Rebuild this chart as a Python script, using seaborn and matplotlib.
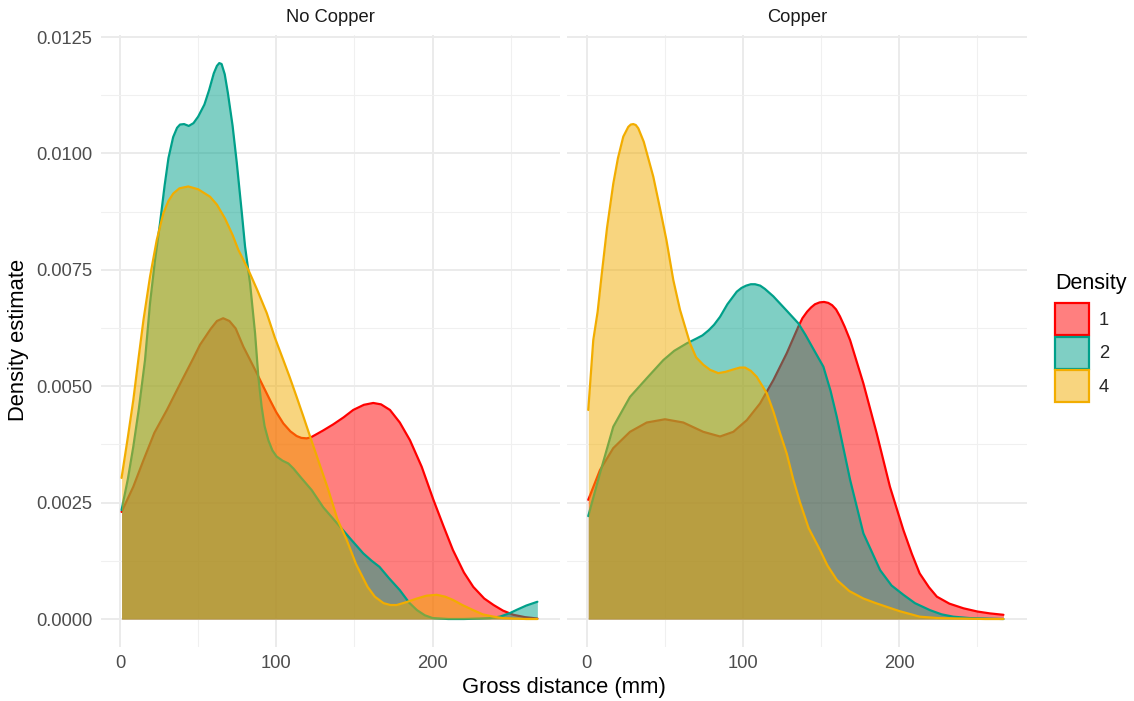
import numpy as np
import pandas as pd
import matplotlib
matplotlib.use("Agg")
import matplotlib.pyplot as plt
import seaborn as sns
from matplotlib.patches import Patch
from matplotlib.colors import to_rgba
from matplotlib.ticker import MultipleLocator, FormatStrFormatter

sns.set_theme(style="white")
plt.rcParams['font.family'] = ['Liberation Sans', 'DejaVu Sans']

panels = ["No Copper", "Copper"]
groups = ["1", "2", "4"]
palette = {"1": "#FF0000", "2": "#00A08A", "4": "#F2AD00"}
x_ticks = [0, 100, 200]
y_ticks = [0.0, 0.0025, 0.005, 0.0075, 0.01, 0.0125]

# ---- No Copper ----
nc1_x = [1, 8.5, 15, 22, 30, 38, 46.9, 51.2, 55, 58, 62, 66, 70, 74, 78.9, 83, 87.5, 92, 96,
         100, 104.5, 109, 113, 116, 119.4, 122, 124.7, 130, 136.4, 143, 149.2, 156, 162, 167,
         172.7, 179, 185.5, 193, 200.5, 207, 213, 220, 226, 233, 239, 245, 251.7, 259, 267]
nc1_y = [0.0023, 0.00284, 0.00341, 0.0040, 0.00449, 0.00502, 0.00560, 0.00589, 0.00608, 0.00623,
         0.0064, 0.00646, 0.0064, 0.00624, 0.00585, 0.00558, 0.00528, 0.00497, 0.0047, 0.00444,
         0.0042, 0.00403, 0.00393, 0.00389, 0.00388, 0.0039, 0.00395, 0.00405, 0.00418, 0.00433,
         0.00449, 0.0046, 0.00464, 0.00461, 0.00449, 0.00422, 0.00384, 0.00327, 0.00256, 0.00199,
         0.00148, 0.00100, 0.00069, 0.00044, 0.0003, 0.00018, 0.00009, 0.00004, 0.00001]

nc2_x = [1, 5, 8.5, 12, 16, 19.2, 22.4, 25.6, 28.5, 31, 34, 36.5, 38.4, 41, 44, 47, 50, 54, 57,
         60, 62, 63.5, 65, 67, 69, 72, 74.7, 78, 80, 83.2, 86.4, 88.5, 90.6, 92.5, 94.9, 97.5,
         100.2, 104, 107.7, 111, 115.2, 122.6, 130, 140.8, 148, 155.6, 161, 166, 172, 179, 185,
         190, 195, 200, 210, 220, 230, 237, 243, 249, 254, 260, 267]
nc2_y = [0.00234, 0.0030, 0.0037, 0.0045, 0.00556, 0.00678, 0.00771, 0.00850, 0.0093, 0.0099,
         0.01035, 0.01055, 0.01062, 0.01063, 0.01059, 0.01065, 0.01079, 0.01105, 0.01136, 0.01172,
         0.01188, 0.01194, 0.01192, 0.0117, 0.0113, 0.0106, 0.0098, 0.0087, 0.0080, 0.00721,
         0.00614, 0.0052, 0.00456, 0.00414, 0.00384, 0.00362, 0.00349, 0.0034, 0.00334, 0.00323,
         0.00306, 0.00277, 0.00240, 0.00198, 0.00170, 0.00141, 0.00125, 0.00112, 0.00088, 0.00062,
         0.00035, 0.00019, 0.00008, 0.00002, 0.0, 0.0, 0.00001, 0.00002, 0.00005, 0.00012, 0.0002,
         0.00029, 0.00037]

nc4_x = [1, 5, 8.5, 11.7, 15, 19.2, 23.5, 27.7, 31, 34.1, 38, 43.7, 50, 57.6, 62, 67.2, 72, 75.7,
         82.1, 88, 93.9, 99, 104.5, 108.5, 113, 117.3, 121.6, 127, 133.3, 139, 145, 151, 158.4,
         163, 168.6, 173, 177, 183, 190, 196, 202.6, 208, 213, 219, 226, 232, 239, 245, 252, 260, 267]
nc4_y = [0.00303, 0.0039, 0.0047, 0.00556, 0.00642, 0.00735, 0.00814, 0.00871, 0.00898, 0.00914,
         0.00925, 0.00929, 0.00923, 0.00907, 0.00890, 0.00860, 0.00825, 0.00793, 0.0075, 0.00705,
         0.00657, 0.00605, 0.00556, 0.0052, 0.00477, 0.00435, 0.00392, 0.00339, 0.00277, 0.00215,
         0.0017, 0.00118, 0.00069, 0.00048, 0.00034, 0.0003, 0.0003, 0.00036, 0.00044, 0.0005,
         0.00052, 0.00048, 0.00041, 0.0003, 0.00019, 0.0001, 0.00005, 0.00002, 0.00001, 0.0, 0.0]

# ---- Copper ----
c1_x = [1, 8.5, 17, 27.7, 38.4, 50.1, 61.8, 74.6, 85.3, 93.8, 102.4, 110.9, 119.4, 128, 135.4,
        138, 141, 143.5, 146, 149, 151.8, 154.5, 157, 159.5, 162, 165, 168.5, 177, 185.5, 194,
        202.6, 208, 213, 219, 224, 232, 241, 250, 258, 266.6]
c1_y = [0.00256, 0.0032, 0.00367, 0.00402, 0.00422, 0.00429, 0.00422, 0.00402, 0.00392, 0.00402,
        0.00427, 0.00463, 0.00513, 0.00571, 0.00628, 0.00646, 0.0066, 0.00669, 0.00676, 0.0068,
        0.00681, 0.00679, 0.00674, 0.00665, 0.0065, 0.00628, 0.00599, 0.00506, 0.00399, 0.00284,
        0.00191, 0.0014, 0.00098, 0.00068, 0.00048, 0.00033, 0.00023, 0.00016, 0.00012, 0.00009]

c2_x = [1, 8.5, 17, 27.7, 38.4, 49, 56, 64, 70, 74, 78, 81.5, 85.3, 90, 96, 99, 102, 105, 107.7,
        111, 114, 119.4, 128, 135.4, 140, 145, 151.4, 156, 160, 168.5, 177, 187.7, 195, 202.6,
        210, 219.6, 227, 234.5, 245, 255, 266.6]
c2_y = [0.00221, 0.00313, 0.00413, 0.00477, 0.00517, 0.00556, 0.00576, 0.00592, 0.00602, 0.00609,
        0.0062, 0.00632, 0.00649, 0.00676, 0.00703, 0.00711, 0.00716, 0.00719, 0.00719, 0.00716,
        0.00709, 0.00693, 0.00662, 0.00635, 0.0061, 0.0058, 0.00542, 0.0049, 0.00434, 0.00299,
        0.00184, 0.00105, 0.00072, 0.00052, 0.00034, 0.00019, 0.0001, 0.00005, 0.00002, 0.00001, 0.0]

c4_x = [1, 4.2, 7, 9.6, 13, 17, 20, 23.4, 26.6, 28.2, 29.8, 31.4, 33, 36.5, 42.6, 47, 51, 55.4,
        59.7, 66.1, 70, 74.6, 79, 84.2, 89, 93.8, 98, 101.3, 105, 108.8, 115.2, 119.5, 123.7, 128,
        132.2, 136.5, 142, 149.3, 154, 160, 168, 177, 185, 192, 200, 213, 225, 240, 255, 266.6]
c4_y = [0.00449, 0.00599, 0.0066, 0.0074, 0.0084, 0.00935, 0.0099, 0.01036, 0.01057, 0.01062,
        0.01063, 0.01061, 0.01054, 0.01025, 0.0095, 0.0088, 0.00814, 0.00728, 0.00664, 0.00592,
        0.00562, 0.00546, 0.00535, 0.00528, 0.00531, 0.00536, 0.0054, 0.0054, 0.00533, 0.0052,
        0.00485, 0.00445, 0.00399, 0.00355, 0.00299, 0.0025, 0.00195, 0.00148, 0.00115, 0.00084,
        0.0006, 0.00044, 0.00034, 0.00026, 0.00017, 0.00005, 0.00002, 0.00001, 0.0, 0.0]

series = [
    ("No Copper", "1", nc1_x, nc1_y), ("No Copper", "2", nc2_x, nc2_y), ("No Copper", "4", nc4_x, nc4_y),
    ("Copper", "1", c1_x, c1_y), ("Copper", "2", c2_x, c2_y), ("Copper", "4", c4_x, c4_y),
]
rows = []
for panel, grp, xs, ys in series:
    for xv, yv in zip(xs, ys):
        rows.append({"panel": panel, "group": grp, "x": xv, "y": yv})
df = pd.DataFrame(rows)

W, H = 1134, 701
fig = plt.figure(figsize=(W / 100, H / 100), dpi=100)
top_px, bot_px = 35.3, 646.8
lefts = [100.7, 567.4]
width_px = 459.1
axes = [fig.add_axes([l / W, 1 - bot_px / H, width_px / W, (bot_px - top_px) / H]) for l in lefts]

for ax, panel in zip(axes, panels):
    ax.set_facecolor("white")
    for i, g in enumerate(groups):
        sub = df[(df.panel == panel) & (df.group == g)]
        ax.fill_between(sub["x"], 0, sub["y"], color=palette[g], alpha=0.5, lw=0, zorder=2 + 2 * i)
        sns.lineplot(data=sub, x="x", y="y", color=palette[g], lw=1.6, ax=ax,
                     estimator=None, sort=False, zorder=3 + 2 * i)
    ax.set_xlim(-12.35, 281.35)
    ax.set_ylim(-0.000597, 0.012537)
    ax.set_xticks(x_ticks)
    ax.set_yticks(y_ticks)
    ax.xaxis.set_minor_locator(MultipleLocator(50))
    ax.yaxis.set_minor_locator(MultipleLocator(0.00125))
    ax.yaxis.set_major_formatter(FormatStrFormatter('%.4f'))
    ax.grid(which='major', color='#EBEBEB', lw=1.4)
    ax.grid(which='minor', color='#F0F0F0', lw=0.8)
    ax.set_axisbelow(True)
    for s in ax.spines.values():
        s.set_visible(False)
    ax.tick_params(which='both', length=0, labelsize=13.2, colors='#4D4D4D', pad=6)
    ax.set_xlabel("")
    ax.set_ylabel("")
    fig.text((ax.get_position().x0 + ax.get_position().x1) / 2, 1 - 18 / H, panel,
             ha='center', va='center', fontsize=13.2, color='#1A1A1A')

axes[1].tick_params(labelleft=False)

fig.text(563.5 / W, 1 - 688 / H, "Gross distance (mm)", ha='center', va='center',
         fontsize=15.8, color='black')
fig.text(19 / W, 1 - 340 / H, "Density estimate", ha='center', va='center',
         rotation=90, fontsize=15.8, color='black')

# legend: title as text, keys via fig.legend
fig.text(1055 / W, 1 - 284 / H, "Density", ha='left', va='center', fontsize=15.5, color='black')
handles = [Patch(facecolor=to_rgba(palette[g], 0.5), edgecolor=palette[g], lw=1.6) for g in groups]
fig.legend(handles, groups, loc='upper left',
           bbox_to_anchor=(1055 / W, 1 - 303 / H), frameon=False, fontsize=13.2,
           handlelength=1.85, handleheight=2.3, labelspacing=0.1,
           handletextpad=0.55, borderaxespad=0, borderpad=0)

fig.savefig("out.png", dpi=100)
